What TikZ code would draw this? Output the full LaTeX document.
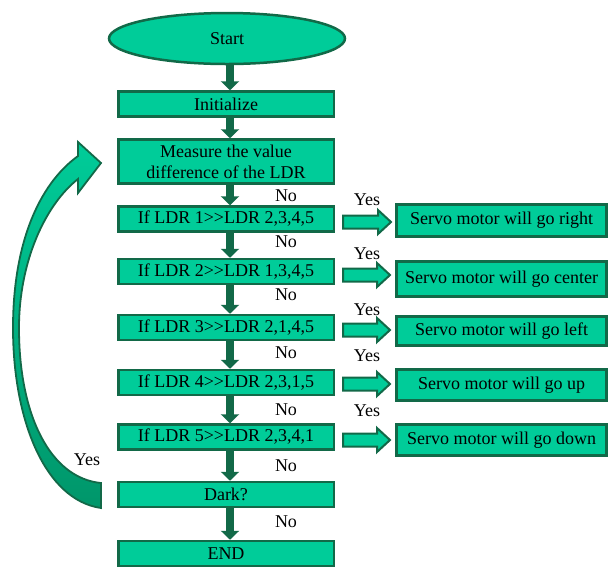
\documentclass[tikz,border=0pt]{standalone}
\usepackage{fontspec}
\setmainfont{Liberation Serif}
\usetikzlibrary{arrows.meta,shapes.geometric,calc}
\definecolor{boxfill}{RGB}{0,204,153}
\definecolor{boxline}{RGB}{18,105,72}
\definecolor{curvedark}{RGB}{0,150,106}
\begin{document}
\begin{tikzpicture}[x=1pt,y=-1pt,
  every node/.style={font=\fontsize{18}{21}\selectfont, text=black},
  lbox/.style={draw=boxline, fill=boxfill, line width=2.5pt, rectangle,
    minimum width=215.5pt, minimum height=25pt, inner sep=0pt, align=center},
  rbox/.style={draw=boxline, fill=boxfill, line width=2.5pt, rectangle,
    minimum width=210pt, inner sep=0pt},
  varrow/.style={draw=boxline, line width=8pt, -{Triangle[width=18pt,length=9pt]}},
  harrow/.style={draw=boxline, fill=boxfill, line width=2pt,
    to path={let \p1=(\tikztostart), \p2=(\tikztotarget) in
      (\x1,\y1+6.5pt) -- (\x2-13pt,\y1+6.5pt) -- (\x2-13pt,\y1+12pt) -- (\x2,\y1)
      -- (\x2-13pt,\y1-12pt) -- (\x2-13pt,\y1-6.5pt) -- (\x1,\y1-6.5pt) -- cycle}},
  lbl/.style={inner sep=0pt}
]
\useasboundingbox (0,0) rectangle (608,566);

% curved loop arrow
\shadedraw[top color=boxfill, bottom color=curvedark, draw=boxline, line width=1.8pt, line join=miter]
  (101,508) .. controls (45,500) and (13,420) .. (13,328)
  .. controls (13,245) and (38,185) .. (78,156)
  -- (78,142) -- (101,163) -- (78,193) -- (78,179)
  .. controls (45,205) and (19,262) .. (19,328)
  .. controls (19,415) and (50,478) .. (101,483) -- cycle;

% main column
\node[ellipse, draw=boxline, fill=boxfill, line width=2.5pt, minimum width=236pt,
  minimum height=51pt, inner sep=0pt] (start) at (227,38.5) {Start};
\node[lbox] (init) at (226,104) {Initialize};
\node[lbox, minimum height=44pt] (meas) at (226,161.5) {Measure the value\\difference of the LDR};
\node[lbox] (ldr1) at (226,219) {If LDR 1>{}>LDR 2,3,4,5};
\node[lbox] (ldr2) at (226,271.5) {If LDR 2>{}>LDR 1,3,4,5};
\node[lbox] (ldr3) at (226,327.5) {If LDR 3>{}>LDR 2,1,4,5};
\node[lbox] (ldr4) at (226,382.5) {If LDR 4>{}>LDR 2,3,1,5};
\node[lbox] (ldr5) at (226,437) {If LDR 5>{}>LDR 2,3,4,1};
\node[lbox] (dark) at (226,494.5) {Dark?};
\node[lbox] (endn) at (226,553.5) {END};

% right column
\node[rbox, minimum height=32pt] (sright) at (501.5,220.5) {Servo motor will go right};
\node[rbox, minimum height=35pt] (scenter) at (501.5,279) {Servo motor will go center};
\node[rbox, minimum height=29pt] (sleft) at (501.5,331) {Servo motor will go left};
\node[rbox, minimum height=31pt] (sup) at (501.5,385) {Servo motor will go up};
\node[rbox, minimum height=31pt] (sdown) at (501.5,440) {Servo motor will go down};

% vertical arrows
\draw[varrow] ([xshift=3pt]start.south) -- ([xshift=4pt]init.north);
\draw[varrow] ([xshift=4pt]init.south) -- ([xshift=4pt]meas.north);
\draw[varrow] ([xshift=4pt]meas.south) -- ([xshift=4pt]ldr1.north);
\draw[varrow] ([xshift=4pt]ldr1.south) -- ([xshift=4pt]ldr2.north);
\draw[varrow] ([xshift=4pt]ldr2.south) -- ([xshift=4pt]ldr3.north);
\draw[varrow] ([xshift=4pt]ldr3.south) -- ([xshift=4pt]ldr4.north);
\draw[varrow] ([xshift=4pt]ldr4.south) -- ([xshift=4pt]ldr5.north);
\draw[varrow] ([xshift=4pt]ldr5.south) -- ([xshift=4pt]dark.north);
\draw[varrow] ([xshift=4pt]dark.south) -- ([xshift=4pt]endn.north);

% horizontal block arrows
\coordinate (a1) at (343,222); \coordinate (b1) at (391,222);
\coordinate (a2) at (343,275); \coordinate (b2) at (390,275);
\coordinate (a3) at (343,330); \coordinate (b3) at (390,330);
\coordinate (a4) at (343,384); \coordinate (b4) at (390,384);
\coordinate (a5) at (343,440); \coordinate (b5) at (390,440);
\draw[harrow] (a1) to (b1);
\draw[harrow] (a2) to (b2);
\draw[harrow] (a3) to (b3);
\draw[harrow] (a4) to (b4);
\draw[harrow] (a5) to (b5);

% labels
\node[lbl] (no1) at (286,196) {No};
\node[lbl] (no2) at (286,242) {No};
\node[lbl] (no3) at (286,295) {No};
\node[lbl] (no4) at (286,353) {No};
\node[lbl] (no5) at (286,410) {No};
\node[lbl] (no6) at (286,466) {No};
\node[lbl] (no7) at (286,522) {No};
\node[lbl] (yes1) at (367,200) {Yes};
\node[lbl] (yes2) at (367,254) {Yes};
\node[lbl] (yes3) at (367,310) {Yes};
\node[lbl] (yes4) at (367,356) {Yes};
\node[lbl] (yes5) at (367,411) {Yes};
\node[lbl] (yes6) at (87,460) {Yes};
\end{tikzpicture}
\end{document}
